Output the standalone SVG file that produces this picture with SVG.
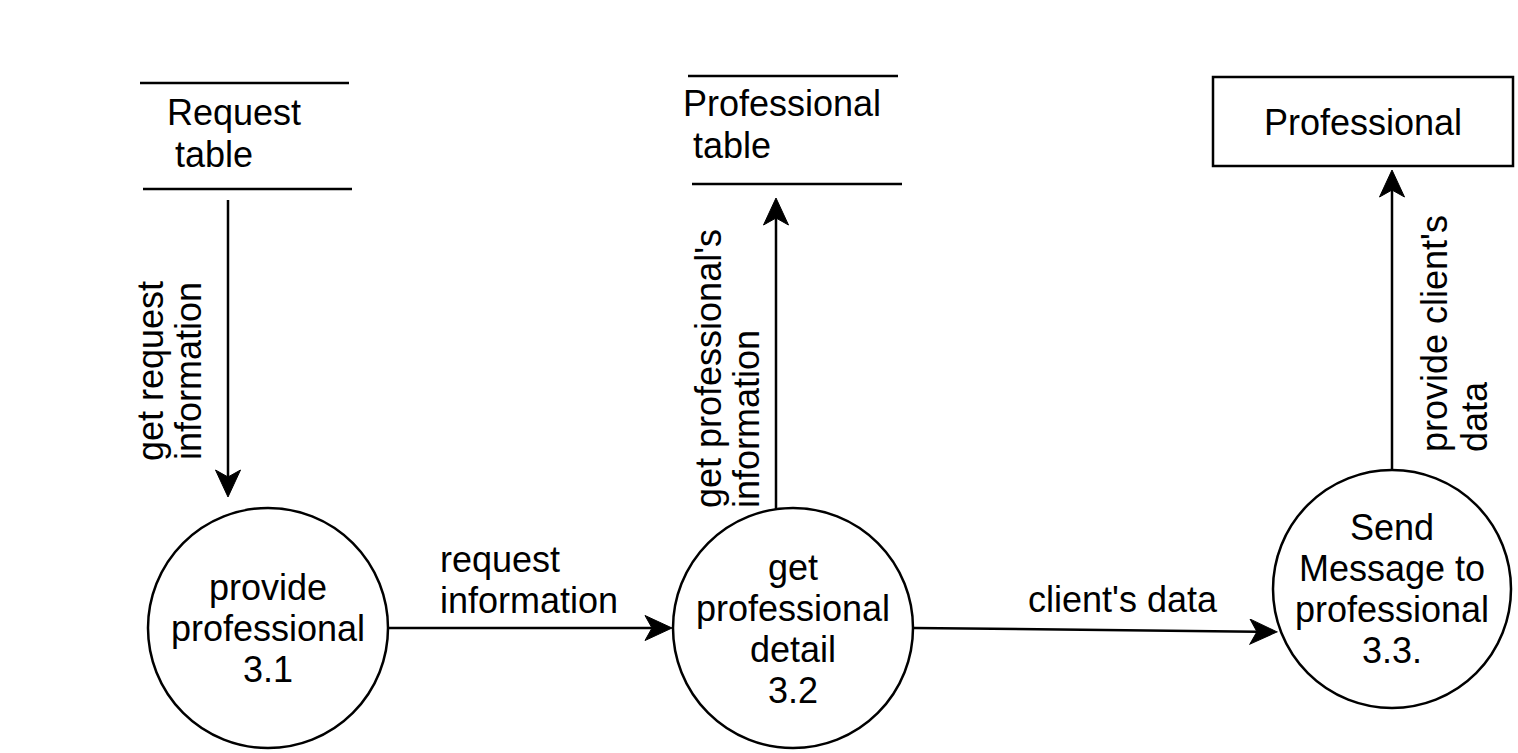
<svg xmlns="http://www.w3.org/2000/svg" width="1518" height="753" viewBox="0 0 1518 753">
<defs>
<style>
text{font-family:"Liberation Sans",Arial,Helvetica,sans-serif;font-size:36px;fill:#000}
.c{text-anchor:middle}
.s{text-anchor:start}
.ln{stroke:#000;stroke-width:2.5;fill:none}
.sh{fill:#fff;stroke:#000;stroke-width:2.5}
</style>
<marker id="ah" markerUnits="userSpaceOnUse" viewBox="-28 -13 29 26" refX="-20" refY="0" markerWidth="29" markerHeight="26" orient="auto">
<path d="M0,0 L-27,-12.5 L-20,0 L-27,12.5 Z" fill="#000" stroke="#000" stroke-width="1"/>
</marker>
</defs>
<rect width="1518" height="753" fill="#fff"/>
<g id="connectors">
<line class="ln" x1="228" y1="200" x2="228" y2="477" marker-end="url(#ah)"/>
<line class="ln" x1="389" y1="628" x2="652" y2="628" marker-end="url(#ah)"/>
<line class="ln" x1="776" y1="509" x2="776" y2="218" marker-end="url(#ah)"/>
<line class="ln" x1="1392" y1="469" x2="1392" y2="190" marker-end="url(#ah)"/>
<line class="ln" x1="914" y1="628" x2="1257" y2="631.7" marker-end="url(#ah)"/>
<text transform="translate(163,371) rotate(-90)" class="c">get request</text>
<text transform="translate(201,371) rotate(-90)" class="c">information</text>
<text x="440" y="572" class="s">request</text>
<text x="440" y="613" class="s">information</text>
<text transform="translate(721,508) rotate(-90)" class="s">get professional's</text>
<text transform="translate(759,508) rotate(-90)" class="s">information</text>
<text x="1028" y="612" class="s">client's data</text>
<text transform="translate(1447,452) rotate(-90)" class="s">provide client's</text>
<text transform="translate(1487,452) rotate(-90)" class="s">data</text>
</g>
<g id="request-table">
<line class="ln" x1="140" y1="83" x2="349" y2="83"/>
<line class="ln" x1="143" y1="189" x2="352" y2="189"/>
<text x="167" y="125" class="s">Request</text>
<text x="175" y="167" class="s">table</text>
</g>
<g id="professional-table">
<line class="ln" x1="688" y1="76" x2="898" y2="76"/>
<line class="ln" x1="692" y1="184" x2="902" y2="184"/>
<text x="683" y="116" class="s">Professional</text>
<text x="693" y="158" class="s">table</text>
</g>
<g id="professional">
<rect class="sh" x="1213" y="77" width="300" height="89"/>
<text x="1363" y="135" class="c">Professional</text>
</g>
<g id="p31">
<circle class="sh" cx="268" cy="628" r="120"/>
<text x="268" y="600" class="c">provide</text>
<text x="268" y="641" class="c">professional</text>
<text x="268" y="682" class="c">3.1</text>
</g>
<g id="p32">
<circle class="sh" cx="793" cy="628" r="120"/>
<text x="793" y="580" class="c">get</text>
<text x="793" y="621" class="c">professional</text>
<text x="793" y="662" class="c">detail</text>
<text x="793" y="703" class="c">3.2</text>
</g>
<g id="p33">
<circle class="sh" cx="1392" cy="589" r="119"/>
<text x="1392" y="540" class="c">Send</text>
<text x="1392" y="581" class="c">Message to</text>
<text x="1392" y="622" class="c">professional</text>
<text x="1392" y="663" class="c">3.3.</text>
</g>
</svg>
